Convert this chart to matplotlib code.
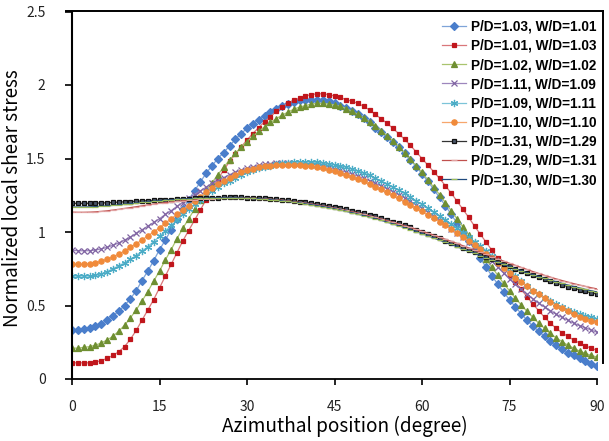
# Normalized local shear stress vs azimuthal position
import numpy as np
import matplotlib.pyplot as plt
from matplotlib.lines import Line2D

angle = list(range(0, 91))

labels = ['P/D=1.03, W/D=1.01', 'P/D=1.01, W/D=1.03', 'P/D=1.02, W/D=1.02',
          'P/D=1.11, W/D=1.09', 'P/D=1.09, W/D=1.11', 'P/D=1.10, W/D=1.10',
          'P/D=1.31, W/D=1.29', 'P/D=1.29, W/D=1.31', 'P/D=1.30, W/D=1.30']

pd103_wd101 = [0.335, 0.335, 0.34, 0.345, 0.36, 0.375, 0.40, 0.43, 0.46, 0.50,
               0.545, 0.60, 0.67, 0.735, 0.805, 0.88, 0.945, 1.015, 1.09, 1.155,
               1.22, 1.28, 1.34, 1.40, 1.45, 1.50, 1.54, 1.585, 1.63, 1.67,
               1.705, 1.735, 1.765, 1.79, 1.815, 1.84, 1.855, 1.87, 1.885, 1.895,
               1.90, 1.90, 1.90, 1.895, 1.89, 1.875, 1.86, 1.845, 1.825, 1.80,
               1.775, 1.745, 1.71, 1.68, 1.645, 1.61, 1.575, 1.535, 1.49, 1.445,
               1.395, 1.345, 1.29, 1.235, 1.18, 1.12, 1.06, 1.00, 0.94, 0.88,
               0.82, 0.76, 0.70, 0.645, 0.59, 0.54, 0.49, 0.445, 0.40, 0.36,
               0.325, 0.29, 0.26, 0.23, 0.205, 0.18, 0.16, 0.14, 0.12, 0.105, 0.09]

pd101_wd103 = [0.11, 0.11, 0.11, 0.11, 0.115, 0.125, 0.14, 0.16, 0.185, 0.22,
               0.27, 0.33, 0.40, 0.47, 0.54, 0.62, 0.70, 0.78, 0.86, 0.94,
               1.01, 1.08, 1.15, 1.22, 1.29, 1.36, 1.42, 1.48, 1.53, 1.58,
               1.625, 1.67, 1.71, 1.75, 1.785, 1.82, 1.85, 1.875, 1.895, 1.91,
               1.925, 1.935, 1.94, 1.94, 1.935, 1.925, 1.915, 1.90, 1.89, 1.875,
               1.855, 1.83, 1.80, 1.77, 1.74, 1.705, 1.67, 1.63, 1.59, 1.545,
               1.50, 1.455, 1.41, 1.365, 1.315, 1.265, 1.21, 1.155, 1.10, 1.04,
               0.985, 0.93, 0.875, 0.82, 0.765, 0.71, 0.66, 0.61, 0.56, 0.51,
               0.465, 0.42, 0.38, 0.345, 0.315, 0.29, 0.265, 0.245, 0.225, 0.21, 0.195]

pd102_wd102 = [0.21, 0.21, 0.215, 0.22, 0.23, 0.245, 0.265, 0.29, 0.325, 0.365,
               0.415, 0.47, 0.53, 0.595, 0.665, 0.735, 0.81, 0.88, 0.955, 1.025,
               1.09, 1.155, 1.22, 1.28, 1.335, 1.39, 1.44, 1.49, 1.535, 1.575,
               1.615, 1.65, 1.685, 1.715, 1.745, 1.77, 1.795, 1.815, 1.835, 1.85,
               1.86, 1.87, 1.875, 1.875, 1.87, 1.865, 1.855, 1.84, 1.82, 1.80,
               1.775, 1.75, 1.72, 1.69, 1.655, 1.62, 1.58, 1.54, 1.495, 1.45,
               1.405, 1.355, 1.305, 1.255, 1.20, 1.145, 1.09, 1.035, 0.98, 0.925,
               0.87, 0.815, 0.76, 0.705, 0.65, 0.60, 0.55, 0.505, 0.46, 0.42,
               0.38, 0.345, 0.31, 0.28, 0.255, 0.23, 0.21, 0.19, 0.175, 0.16, 0.15]

pd111_wd109 = [0.875, 0.873, 0.872, 0.873, 0.877, 0.885, 0.895, 0.91, 0.925, 0.945,
               0.965, 0.99, 1.015, 1.04, 1.065, 1.09, 1.12, 1.145, 1.175, 1.20,
               1.23, 1.255, 1.28, 1.305, 1.33, 1.35, 1.37, 1.39, 1.405, 1.42,
               1.433, 1.444, 1.453, 1.46, 1.465, 1.469, 1.471, 1.472, 1.471, 1.469,
               1.466, 1.461, 1.455, 1.448, 1.44, 1.43, 1.419, 1.407, 1.394, 1.38,
               1.365, 1.349, 1.332, 1.314, 1.295, 1.275, 1.254, 1.232, 1.209, 1.185,
               1.16, 1.134, 1.107, 1.08, 1.052, 1.023, 0.994, 0.964, 0.933, 0.902,
               0.87, 0.837, 0.80, 0.76, 0.72, 0.68, 0.645, 0.61, 0.575, 0.545,
               0.515, 0.49, 0.465, 0.44, 0.42, 0.40, 0.38, 0.363, 0.348, 0.333, 0.318]

pd109_wd111 = [0.70, 0.70, 0.70, 0.70, 0.705, 0.715, 0.73, 0.75, 0.77, 0.79,
               0.815, 0.84, 0.87, 0.90, 0.935, 0.97, 1.005, 1.045, 1.08, 1.12,
               1.155, 1.19, 1.22, 1.25, 1.28, 1.305, 1.33, 1.35, 1.37, 1.39,
               1.405, 1.42, 1.432, 1.443, 1.452, 1.46, 1.466, 1.471, 1.474, 1.476,
               1.477, 1.476, 1.474, 1.47, 1.465, 1.458, 1.45, 1.44, 1.428, 1.415,
               1.40, 1.385, 1.367, 1.348, 1.328, 1.307, 1.285, 1.262, 1.238, 1.213,
               1.188, 1.162, 1.136, 1.11, 1.083, 1.055, 1.025, 0.995, 0.965, 0.935,
               0.905, 0.873, 0.84, 0.805, 0.77, 0.735, 0.70, 0.665, 0.632, 0.60,
               0.575, 0.55, 0.528, 0.507, 0.488, 0.47, 0.455, 0.442, 0.43, 0.42, 0.41]

pd110_wd110 = [0.78, 0.78, 0.782, 0.785, 0.79, 0.80, 0.815, 0.83, 0.85, 0.87,
               0.895, 0.92, 0.945, 0.975, 1.00, 1.03, 1.06, 1.09, 1.12, 1.15,
               1.18, 1.21, 1.24, 1.27, 1.30, 1.325, 1.35, 1.37, 1.39, 1.405,
               1.42, 1.43, 1.44, 1.447, 1.452, 1.455, 1.457, 1.458, 1.457, 1.455,
               1.451, 1.446, 1.44, 1.433, 1.424, 1.414, 1.402, 1.39, 1.376, 1.36,
               1.344, 1.327, 1.309, 1.29, 1.27, 1.25, 1.228, 1.206, 1.184, 1.162,
               1.14, 1.117, 1.094, 1.07, 1.045, 1.02, 0.994, 0.967, 0.94, 0.912,
               0.883, 0.853, 0.822, 0.79, 0.755, 0.72, 0.69, 0.66, 0.63, 0.60,
               0.575, 0.55, 0.525, 0.50, 0.48, 0.46, 0.44, 0.425, 0.41, 0.397, 0.385]

pd131_wd129 = [1.195, 1.195, 1.195, 1.195, 1.196, 1.197, 1.199, 1.201, 1.203, 1.205,
               1.207, 1.209, 1.211, 1.213, 1.215, 1.217, 1.219, 1.221, 1.223, 1.225,
               1.227, 1.229, 1.231, 1.232, 1.233, 1.234, 1.235, 1.235, 1.235, 1.235,
               1.234, 1.233, 1.231, 1.229, 1.226, 1.223, 1.22, 1.216, 1.212, 1.207,
               1.202, 1.197, 1.191, 1.185, 1.178, 1.171, 1.163, 1.155, 1.146, 1.137,
               1.127, 1.117, 1.106, 1.095, 1.083, 1.071, 1.058, 1.045, 1.031, 1.017,
               1.003, 0.988, 0.973, 0.958, 0.942, 0.926, 0.91, 0.894, 0.878, 0.862,
               0.846, 0.83, 0.814, 0.798, 0.782, 0.766, 0.751, 0.736, 0.721, 0.707,
               0.693, 0.679, 0.666, 0.653, 0.641, 0.629, 0.618, 0.607, 0.597, 0.587, 0.578]

pd129_wd131 = [1.135, 1.134, 1.134, 1.135, 1.137, 1.14, 1.144, 1.149, 1.154, 1.16,
               1.166, 1.172, 1.178, 1.184, 1.19, 1.195, 1.20, 1.205, 1.209, 1.213,
               1.217, 1.22, 1.223, 1.225, 1.227, 1.229, 1.23, 1.231, 1.231, 1.231,
               1.23, 1.229, 1.227, 1.225, 1.222, 1.219, 1.215, 1.211, 1.206, 1.201,
               1.196, 1.19, 1.184, 1.177, 1.17, 1.163, 1.155, 1.147, 1.138, 1.129,
               1.12, 1.11, 1.10, 1.089, 1.078, 1.067, 1.055, 1.043, 1.031, 1.018,
               1.005, 0.992, 0.978, 0.964, 0.95, 0.936, 0.922, 0.907, 0.892, 0.877,
               0.862, 0.847, 0.832, 0.817, 0.802, 0.787, 0.773, 0.759, 0.745, 0.731,
               0.718, 0.705, 0.693, 0.681, 0.67, 0.659, 0.649, 0.639, 0.63, 0.621, 0.613]

pd130_wd130 = [1.17, 1.17, 1.17, 1.171, 1.173, 1.175, 1.178, 1.181, 1.185, 1.189,
               1.193, 1.197, 1.201, 1.205, 1.209, 1.213, 1.216, 1.219, 1.222, 1.224,
               1.226, 1.228, 1.229, 1.23, 1.231, 1.232, 1.232, 1.232, 1.232, 1.231,
               1.23, 1.228, 1.226, 1.223, 1.22, 1.216, 1.212, 1.208, 1.203, 1.198,
               1.192, 1.186, 1.18, 1.173, 1.166, 1.158, 1.15, 1.141, 1.132, 1.122,
               1.112, 1.102, 1.091, 1.08, 1.068, 1.056, 1.043, 1.03, 1.017, 1.003,
               0.989, 0.975, 0.96, 0.945, 0.93, 0.915, 0.9, 0.885, 0.87, 0.855,
               0.84, 0.825, 0.81, 0.795, 0.78, 0.765, 0.751, 0.737, 0.723, 0.71,
               0.697, 0.685, 0.673, 0.661, 0.65, 0.639, 0.629, 0.619, 0.609, 0.6, 0.592]

series = [pd103_wd101, pd101_wd103, pd102_wd102, pd111_wd109, pd109_wd111,
          pd110_wd110, pd131_wd129, pd129_wd131, pd130_wd130]

# (line colour, marker, marker face, marker edge, marker size)
estilos = [
    ('#7fa4d8', 'D', '#4a7ecb', '#4a7ecb', 3.8),
    ('#d9777a', 's', '#c0161c', '#c0161c', 3.5),
    ('#a9c46e', '^', '#6f8f32', '#6f8f32', 4.0),
    ('#9d86bd', 'x', '#8064a2', '#8064a2', 3.8),
    ('#7cc4d8', (6, 2, 0), '#4bacc6', '#4bacc6', 5.2),
    ('#f7a66c', 'o', '#f08a3a', '#f08a3a', 3.8),
    ('#333333', 's', '#4a5568', '#111111', 2.8),
    ('#c0504d', '_', '#d99694', '#e0a0a0', 4.0),
    ('#1f497d', '_', '#9bbb59', '#9bbb59', 4.0),
]

fig = plt.figure(figsize=(6.09, 4.41), dpi=100)
ax = fig.add_axes([72 / 609, 1 - 379 / 441, 525 / 609, 367.5 / 441])

for y, lab, (lc, mk, mfc, mec, ms) in zip(series, labels, estilos):
    ax.plot(angle, y, color=lc, lw=0.9, marker=mk, markersize=ms,
            markerfacecolor=mfc, markeredgecolor=mec, markeredgewidth=0.9,
            label=lab)

ax.set_xlim(0, 90)
ax.set_ylim(0, 2.5)
ax.set_xticks([0, 15, 30, 45, 60, 75, 90])
ax.set_yticks([0, 0.5, 1, 1.5, 2, 2.5])
ax.set_yticklabels(['0', '0.5', '1', '1.5', '2', '2.5'])

tick_font = ['Noto Sans CJK KR', 'DejaVu Sans']
for t in ax.get_xticklabels() + ax.get_yticklabels():
    t.set_family(tick_font)
    t.set_fontsize(10)
    t.set_color('#222222')

ax.tick_params(axis='x', direction='out', length=4, width=1.2, pad=11)
ax.tick_params(axis='y', direction='out', length=5, width=1.2, pad=14)

ax.spines['top'].set_visible(False)
ax.spines['right'].set_visible(False)
ax.spines['left'].set_linewidth(1.5)
ax.spines['bottom'].set_linewidth(1.3)

ax.set_xlabel('Azimuthal position (degree)', family=tick_font, fontsize=13.7)
ax.set_ylabel('Normalized local shear stress', family=tick_font, fontsize=13.6)
ax.xaxis.set_label_coords((345 - 72) / 525, (379 - 416) / 367.5)
ax.yaxis.set_label_coords((23 - 72) / 525, 0.4925)

leg = ax.legend(loc='upper right', bbox_to_anchor=(1.014, 1.0), frameon=False,
                prop={'family': 'Liberation Sans', 'weight': 'bold', 'size': 9.8},
                handlelength=1.8, handletextpad=0.3, labelspacing=0.38,
                borderaxespad=0.2)

# marco superior y derecho del area de grafico
fig.add_artist(Line2D([66 / 609, 603 / 609], [1 - 11 / 441, 1 - 11 / 441],
                      color='black', lw=1.4))
fig.add_artist(Line2D([603 / 609, 603 / 609], [1 - 11 / 441, 1 - 363 / 441],
                      color='black', lw=1.4))

fig.savefig('out.png', dpi=100)
